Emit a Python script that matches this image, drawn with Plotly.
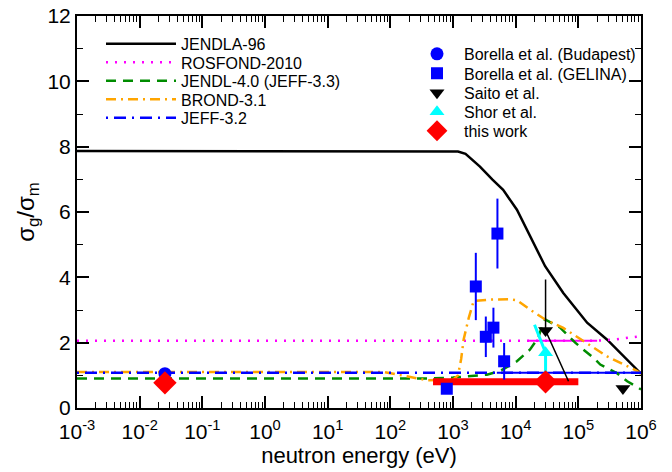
import numpy as np
import plotly.graph_objects as go

# ---------------- data ----------------
# evaluated libraries (log10 energy, ratio)
jendla_logE = [-3, 2.9, 3.08, 3.2, 3.3, 3.43, 3.63, 3.8, 4.02, 4.23, 4.47, 4.76, 5.14, 5.46, 5.78, 6.0]
jendla_val = [7.87, 7.87, 7.85, 7.78, 7.62, 7.39, 6.99, 6.68, 6.07, 5.25, 4.34, 3.52, 2.61, 2.09, 1.48, 1.05]

rosfond_logE = [-3, 5.3, 5.6, 6.0]
rosfond_val = [2.06, 2.06, 2.1, 2.2]
rosfond_dense_logE = [4.2, 5.3]
rosfond_dense_val = [2.06, 2.06]

jendl4_logE = [-3, 2.6, 3.0, 3.27, 3.54, 3.75, 4.02, 4.23, 4.36, 4.44, 4.47, 4.71, 4.82, 4.95, 5.08,
               5.24, 5.35, 5.51, 5.62, 5.78, 6.0]
jendl4_val = [0.90, 0.90, 0.93, 0.97, 1.02, 1.13, 1.43, 1.79, 2.15, 2.61, 2.71, 2.46, 2.25, 2.0, 1.79,
              1.54, 1.33, 1.18, 1.06, 0.82, 0.57]

brond_logE = [-3, 1.9, 2.59, 3.0, 3.08, 3.13, 3.17, 3.25, 3.33, 3.6, 3.9, 4.02, 4.23, 4.47, 4.76,
              5.14, 5.46, 5.94, 6.0]
brond_val = [1.10, 1.10, 0.85, 0.87, 1.0, 1.5, 2.1, 2.75, 3.28, 3.32, 3.33, 3.30, 3.01, 2.71, 2.45,
             1.99, 1.58, 1.13, 1.05]

jeff32_logE = [-3, 6.0]
jeff32_val = [1.08, 1.08]
jeff32_dense_logE = [3.7, 6.0]
jeff32_dense_val = [1.08, 1.08]

# experiments
budapest_E = [0.0253]
budapest_val = [1.05]

gelina_E = [796, 2312, 3340, 4416, 5117, 6547]
gelina_val = [0.59, 3.72, 2.18, 2.46, 5.34, 1.43]
gelina_err = [0.0, 1.03, 0.62, 0.61, 1.07, 0.56]

saito_E = [30000, 515000]
saito_val = [2.37, 0.60]
saito_bar_E = [30000, 30000, 69700]
saito_bar_val = [3.93, 2.37, 0.82]

shor_E = [30000]
shor_val = [1.69]
shor_bar_E = [20000, 30000, 30000]
shor_bar_val = [2.55, 1.69, 1.06]

this_E = [0.0253, 30000]
this_val = [0.77, 0.80]
this_bar_E = [480, 100000]
this_bar_val = [0.80, 0.80]

xtick_exp = [-3, -2, -1, 0, 1, 2, 3, 4, 5, 6]
ytick_vals = [0, 2, 4, 6, 8, 10, 12]

# ---------------- figure ----------------
fig = go.Figure()

def E(logs):
    return [10 ** v for v in logs]

fig.add_trace(go.Scatter(x=E(rosfond_dense_logE), y=rosfond_dense_val, mode="lines",
                         line=dict(color="#ff00ff", width=2), showlegend=False, hoverinfo="skip"))
fig.add_trace(go.Scatter(x=E(jeff32_dense_logE), y=jeff32_dense_val, mode="lines",
                         line=dict(color="#0000ff", width=2), showlegend=False, hoverinfo="skip"))

fig.add_trace(go.Scatter(x=E(jendla_logE), y=jendla_val, mode="lines", name="JENDLA-96",
                         line=dict(color="black", width=2.5), legend="legend"))
fig.add_trace(go.Scatter(x=E(rosfond_logE), y=rosfond_val, mode="lines", name="ROSFOND-2010",
                         line=dict(color="#ff00ff", width=2.5, dash="2px,7px"), legend="legend2"))
fig.add_trace(go.Scatter(x=E(jendl4_logE), y=jendl4_val, mode="lines", name="JENDL-4.0 (JEFF-3.3)",
                         line=dict(color="#008c00", width=2.5, dash="10px,7px"), legend="legend3"))
fig.add_trace(go.Scatter(x=E(brond_logE), y=brond_val, mode="lines", name="BROND-3.1",
                         line=dict(color="#ffa500", width=2.5, dash="10px,5px,2px,5px"), legend="legend4"))
fig.add_trace(go.Scatter(x=E(jeff32_logE), y=jeff32_val, mode="lines", name="JEFF-3.2",
                         line=dict(color="#0000ff", width=2.5, dash="2px,6px,12px,6px"), legend="legend5"))

# error / connector lines
fig.add_trace(go.Scatter(x=this_bar_E, y=this_bar_val, mode="lines",
                         line=dict(color="#ff0000", width=7), showlegend=False, hoverinfo="skip"))
fig.add_trace(go.Scatter(x=saito_bar_E, y=saito_bar_val, mode="lines",
                         line=dict(color="black", width=1.5), showlegend=False, hoverinfo="skip"))
fig.add_trace(go.Scatter(x=shor_bar_E, y=shor_bar_val, mode="lines",
                         line=dict(color="#00ffff", width=3), showlegend=False, hoverinfo="skip"))

fig.add_trace(go.Scatter(x=budapest_E, y=budapest_val, mode="markers", name="Borella et al. (Budapest)",
                         marker=dict(symbol="circle", size=13, color="#0000ff"), legend="legend6"))
fig.add_trace(go.Scatter(x=gelina_E, y=gelina_val, mode="markers", name="Borella et al. (GELINA)",
                         marker=dict(symbol="square", size=12, color="#0000ff"),
                         error_y=dict(type="data", array=gelina_err, color="#0000ff", thickness=2, width=0),
                         legend="legend7"))
fig.add_trace(go.Scatter(x=saito_E, y=saito_val, mode="markers", name="Saito et al.",
                         marker=dict(symbol="triangle-down", size=13, color="black"), legend="legend8"))
fig.add_trace(go.Scatter(x=shor_E, y=shor_val, mode="markers", name="Shor et al.",
                         marker=dict(symbol="triangle-up", size=13, color="#00ffff"), legend="legend9"))
fig.add_trace(go.Scatter(x=this_E, y=this_val, mode="markers", name="this work",
                         marker=dict(symbol="diamond", size=18, color="#ff0000"), legend="legend10"))

font_family = "Liberation Sans, Arial, sans-serif"

# plot area in pixels (for placing legend rows)
PL, PR, PT, PB = 77, 641, 16, 408.5

def px_x(px):
    return (px - PL) / (PR - PL)

def px_y(py):
    return (PB - py) / (PB - PT)

left_rows = [44, 62.5, 81, 99.5, 118]
right_rows = [54, 73.5, 93, 112, 131]

legends = {}
for i, py in enumerate(left_rows):
    key = "legend" if i == 0 else "legend%d" % (i + 1)
    legends[key] = dict(x=px_x(101), y=px_y(py), xanchor="left", yanchor="middle",
                        bgcolor="rgba(0,0,0,0)", font=dict(size=16, family=font_family),
                        itemwidth=70)
for i, py in enumerate(right_rows):
    key = "legend%d" % (i + 6)
    legends[key] = dict(x=px_x(410), y=px_y(py), xanchor="left", yanchor="middle",
                        bgcolor="rgba(0,0,0,0)", font=dict(size=16, family=font_family),
                        itemwidth=44)

fig.update_layout(
    width=672, height=472,
    margin=dict(l=PL, r=672 - PR, t=PT, b=472 - PB, autoexpand=False),
    plot_bgcolor="white", paper_bgcolor="white",
    font=dict(family=font_family, color="black", size=16),
    xaxis=dict(type="log", range=[-3, 6], automargin=False,
               tickvals=[10 ** e for e in xtick_exp],
               ticktext=["10<sup>%d</sup>" % e for e in xtick_exp],
               ticks="inside", ticklen=12, tickwidth=1.5, tickcolor="black",
               minor=dict(ticks="inside", ticklen=6, tickwidth=1.2, tickcolor="black",
                          dtick="D1", showgrid=False),
               showline=True, linecolor="black", linewidth=2, mirror="ticks",
               showgrid=False, zeroline=False, ticklabelstandoff=4,
               tickfont=dict(size=21, family=font_family),
               title=dict(text="neutron energy (eV)", font=dict(size=22, family=font_family), standoff=4)),
    yaxis=dict(range=[0, 12], tickvals=ytick_vals, automargin=False,
               ticks="inside", ticklen=12, tickwidth=1.5, tickcolor="black",
               minor=dict(ticks="inside", ticklen=6, tickwidth=1.2, tickcolor="black",
                          dtick=1, showgrid=False),
               showline=True, linecolor="black", linewidth=2, mirror="ticks",
               showgrid=False, zeroline=False,
               tickfont=dict(size=21, family=font_family),
               title=dict(text="σ<sub>g</sub>/σ<sub>m</sub>", font=dict(size=24, family=font_family), standoff=6)),
    **legends,
)

fig.write_html("out.html")
